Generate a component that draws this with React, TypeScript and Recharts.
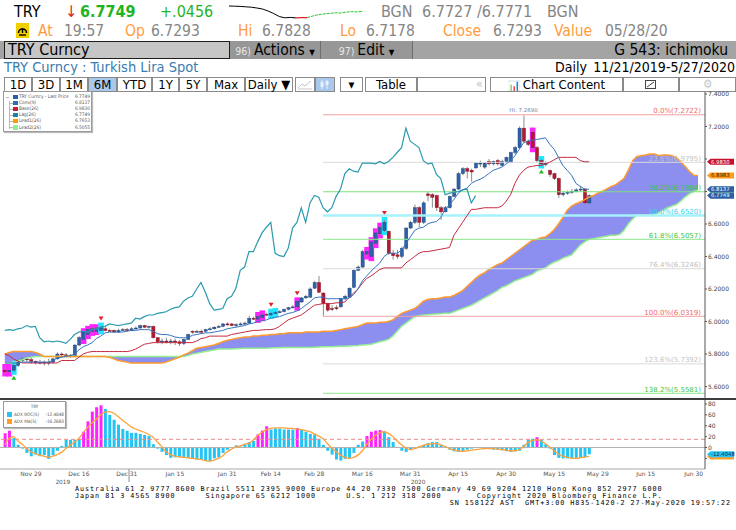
import React from 'react'
import { ComposedChart, LineChart, Bar, Line, Area, XAxis, YAxis, ReferenceLine, ReferenceDot, Cell } from 'recharts'

// candles, index 0 = 11/21/2019 (business days)
const opens = [5.70, 5.69, 5.70, 5.73, 5.76, 5.77, 5.765, 5.755, 5.745, 5.75, 5.745, 5.75, 5.77, 5.80, 5.795, 5.79, 5.785, 5.855, 5.89, 5.92, 5.94, 5.94, 5.945, 5.955, 5.945, 5.945, 5.935, 5.945, 5.95, 5.945, 5.955, 5.96, 5.975, 5.965, 5.97, 5.90, 5.875, 5.88, 5.875, 5.88, 5.875, 5.865, 5.89, 5.94, 5.935, 5.94, 5.94, 5.95, 5.955, 5.965, 5.97, 5.985, 5.985, 5.975, 5.98, 5.985, 5.99, 6.02, 6.015, 6.025, 6.045, 6.04, 6.05, 6.055, 6.06, 6.075, 6.085, 6.09, 6.12, 6.145, 6.15, 6.205, 6.24, 6.175, 6.11, 6.08, 6.085, 6.09, 6.14, 6.15, 6.21, 6.315, 6.335, 6.415, 6.40, 6.48, 6.54, 6.56, 6.555, 6.42, 6.41, 6.40, 6.45, 6.575, 6.61, 6.70, 6.61, 6.785, 6.78, 6.775, 6.70, 6.675, 6.70, 6.77, 6.815, 6.91, 6.94, 6.93, 6.945, 6.97, 6.95, 6.985, 6.97, 6.99, 6.96, 6.985, 6.98, 7.04, 7.07, 7.19, 7.11, 7.165, 7.07, 6.99, 6.965, 6.93, 6.91, 6.88, 6.78, 6.79, 6.795, 6.80, 6.81, 6.815, 6.7293]
const highs = [5.72, 5.72, 5.74, 5.77, 5.78, 5.78, 5.775, 5.76, 5.765, 5.76, 5.77, 5.775, 5.81, 5.81, 5.805, 5.80, 5.86, 5.91, 5.94, 5.955, 5.965, 5.965, 5.975, 5.965, 5.955, 5.95, 5.955, 5.96, 5.96, 5.965, 5.97, 5.98, 5.98, 5.975, 5.975, 5.905, 5.895, 5.90, 5.895, 5.895, 5.885, 5.895, 5.925, 5.945, 5.95, 5.95, 5.955, 5.965, 5.97, 5.98, 5.99, 5.995, 5.99, 5.99, 5.995, 6.00, 6.035, 6.03, 6.04, 6.05, 6.055, 6.06, 6.065, 6.07, 6.08, 6.09, 6.10, 6.13, 6.15, 6.165, 6.21, 6.25, 6.28, 6.18, 6.115, 6.10, 6.10, 6.145, 6.165, 6.21, 6.32, 6.345, 6.44, 6.44, 6.50, 6.555, 6.59, 6.625, 6.56, 6.44, 6.44, 6.46, 6.58, 6.62, 6.72, 6.71, 6.74, 6.80, 6.79, 6.78, 6.71, 6.71, 6.775, 6.82, 6.92, 6.95, 6.95, 6.94, 6.98, 6.99, 6.98, 7.00, 6.99, 7.00, 6.995, 7.015, 7.045, 7.08, 7.20, 7.269, 7.12, 7.175, 7.08, 7.00, 6.985, 6.935, 6.915, 6.885, 6.80, 6.805, 6.815, 6.82, 6.835, 6.82, 6.7828]
const lows = [5.68, 5.68, 5.69, 5.72, 5.75, 5.75, 5.74, 5.735, 5.735, 5.73, 5.73, 5.74, 5.765, 5.78, 5.78, 5.775, 5.78, 5.85, 5.88, 5.91, 5.93, 5.935, 5.94, 5.94, 5.935, 5.93, 5.93, 5.94, 5.94, 5.94, 5.95, 5.955, 5.96, 5.955, 5.895, 5.865, 5.86, 5.865, 5.86, 5.855, 5.85, 5.855, 5.885, 5.925, 5.93, 5.925, 5.93, 5.945, 5.95, 5.96, 5.965, 5.975, 5.97, 5.965, 5.975, 5.98, 5.985, 6.01, 6.01, 6.02, 6.035, 6.035, 6.045, 6.05, 6.055, 6.07, 6.08, 6.085, 6.115, 6.14, 6.145, 6.20, 6.175, 6.032, 6.06, 6.065, 6.07, 6.085, 6.13, 6.145, 6.205, 6.31, 6.33, 6.40, 6.39, 6.47, 6.53, 6.55, 6.41, 6.38, 6.385, 6.39, 6.44, 6.57, 6.60, 6.58, 6.60, 6.74, 6.70, 6.68, 6.625, 6.67, 6.695, 6.765, 6.81, 6.90, 6.88, 6.86, 6.94, 6.95, 6.94, 6.96, 6.96, 6.96, 6.955, 6.975, 6.975, 7.03, 7.06, 7.10, 7.08, 7.06, 6.98, 6.96, 6.955, 6.89, 6.87, 6.76, 6.77, 6.78, 6.785, 6.795, 6.80, 6.72, 6.7178]
const closes = [5.69, 5.70, 5.73, 5.76, 5.77, 5.765, 5.755, 5.745, 5.75, 5.745, 5.75, 5.77, 5.80, 5.795, 5.79, 5.785, 5.855, 5.90, 5.935, 5.95, 5.955, 5.96, 5.965, 5.945, 5.94, 5.935, 5.945, 5.95, 5.945, 5.955, 5.96, 5.975, 5.965, 5.97, 5.90, 5.875, 5.88, 5.875, 5.88, 5.875, 5.865, 5.89, 5.92, 5.935, 5.94, 5.935, 5.95, 5.955, 5.965, 5.97, 5.985, 5.98, 5.975, 5.98, 5.985, 5.99, 6.02, 6.015, 6.03, 6.04, 6.04, 6.05, 6.055, 6.06, 6.075, 6.085, 6.09, 6.125, 6.145, 6.155, 6.20, 6.24, 6.18, 6.11, 6.07, 6.075, 6.08, 6.14, 6.155, 6.205, 6.315, 6.335, 6.43, 6.43, 6.49, 6.545, 6.58, 6.61, 6.42, 6.405, 6.40, 6.45, 6.575, 6.61, 6.70, 6.61, 6.73, 6.775, 6.765, 6.70, 6.675, 6.70, 6.77, 6.815, 6.91, 6.94, 6.925, 6.92, 6.975, 6.975, 6.975, 6.97, 6.985, 6.97, 6.985, 7.01, 7.04, 7.07, 7.19, 7.11, 7.09, 7.07, 6.99, 6.97, 6.975, 6.905, 6.88, 6.78, 6.79, 6.795, 6.80, 6.81, 6.815, 6.73, 6.7749]

const conv = [5.745, 5.745, 5.745, 5.745, 5.75, 5.75, 5.75, 5.75, 5.75, 5.75, 5.75, 5.76, 5.775, 5.78, 5.785, 5.79, 5.80, 5.825, 5.845, 5.855, 5.87, 5.895, 5.91, 5.93, 5.935, 5.935, 5.935, 5.935, 5.94, 5.945, 5.945, 5.95, 5.95, 5.95, 5.94, 5.925, 5.92, 5.92, 5.915, 5.905, 5.90, 5.90, 5.90, 5.915, 5.92, 5.925, 5.93, 5.93, 5.935, 5.94, 5.945, 5.955, 5.96, 5.965, 5.97, 5.975, 5.985, 5.99, 6.0, 6.005, 6.01, 6.02, 6.025, 6.03, 6.04, 6.05, 6.055, 6.065, 6.08, 6.10, 6.12, 6.145, 6.15, 6.15, 6.14, 6.14, 6.14, 6.14, 6.14, 6.145, 6.165, 6.20, 6.25, 6.28, 6.31, 6.335, 6.36, 6.40, 6.42, 6.42, 6.42, 6.44, 6.48, 6.52, 6.56, 6.575, 6.58, 6.60, 6.61, 6.615, 6.64, 6.69, 6.72, 6.75, 6.79, 6.81, 6.82, 6.85, 6.865, 6.875, 6.89, 6.91, 6.93, 6.94, 6.95, 6.97, 6.99, 7.02, 7.06, 7.10, 7.11, 7.115, 7.12, 7.125, 7.13, 7.09, 7.06, 7.01, 6.96, 6.93, 6.90, 6.85, 6.83, 6.815, 6.8137]
const base = [5.80, 5.79, 5.77, 5.755, 5.745, 5.745, 5.745, 5.745, 5.745, 5.745, 5.745, 5.745, 5.745, 5.76, 5.76, 5.76, 5.76, 5.78, 5.80, 5.81, 5.815, 5.815, 5.815, 5.815, 5.815, 5.815, 5.815, 5.815, 5.815, 5.82, 5.83, 5.845, 5.86, 5.865, 5.87, 5.87, 5.87, 5.87, 5.87, 5.87, 5.87, 5.87, 5.87, 5.87, 5.88, 5.895, 5.90, 5.91, 5.91, 5.91, 5.91, 5.91, 5.92, 5.925, 5.93, 5.935, 5.94, 5.945, 5.945, 5.948, 5.95, 5.95, 5.955, 5.97, 5.99, 6.01, 6.02, 6.03, 6.04, 6.06, 6.08, 6.10, 6.105, 6.11, 6.11, 6.11, 6.115, 6.115, 6.12, 6.15, 6.175, 6.20, 6.235, 6.265, 6.28, 6.30, 6.32, 6.33, 6.33, 6.33, 6.33, 6.33, 6.36, 6.38, 6.40, 6.42, 6.43, 6.43, 6.435, 6.44, 6.445, 6.45, 6.455, 6.53, 6.57, 6.61, 6.65, 6.69, 6.69, 6.695, 6.70, 6.70, 6.70, 6.70, 6.71, 6.74, 6.78, 6.85, 6.90, 6.93, 6.95, 6.955, 6.96, 6.96, 6.97, 6.98, 6.995, 7.01, 7.01, 7.01, 7.01, 7.01, 6.99, 6.983, 6.983]
const lead1 = [5.80, 5.81, 5.815, 5.815, 5.815, 5.815, 5.815, 5.81, 5.80, 5.785, 5.785, 5.785, 5.785, 5.785, 5.785, 5.785, 5.785, 5.785, 5.785, 5.785, 5.785, 5.785, 5.785, 5.785, 5.78, 5.77, 5.76, 5.755, 5.75, 5.745, 5.745, 5.745, 5.745, 5.745, 5.745, 5.745, 5.745, 5.75, 5.76, 5.77, 5.78, 5.795, 5.805, 5.82, 5.835, 5.84, 5.845, 5.85, 5.855, 5.865, 5.875, 5.885, 5.89, 5.895, 5.90, 5.905, 5.905, 5.91, 5.91, 5.915, 5.915, 5.92, 5.92, 5.925, 5.925, 5.93, 5.93, 5.93, 5.93, 5.935, 5.935, 5.935, 5.935, 5.94, 5.94, 5.94, 5.945, 5.95, 5.955, 5.96, 5.965, 5.97, 5.98, 5.99, 5.99, 5.99, 5.995, 5.995, 6.0, 6.01, 6.03, 6.05, 6.06, 6.07, 6.08, 6.10, 6.125, 6.135, 6.14, 6.14, 6.145, 6.15, 6.15, 6.16, 6.175, 6.19, 6.215, 6.24, 6.265, 6.285, 6.30, 6.32, 6.335, 6.35, 6.36, 6.38, 6.40, 6.42, 6.44, 6.46, 6.48, 6.50, 6.505, 6.515, 6.52, 6.54, 6.565, 6.60, 6.64, 6.685, 6.71, 6.725, 6.735, 6.75, 6.765, 6.775, 6.79, 6.80, 6.815, 6.83, 6.84, 6.86, 6.88, 6.93, 6.99, 7.015, 7.02, 7.025, 7.03, 7.03, 7.02, 7.025, 7.025, 7.02, 7.01, 6.985, 6.955, 6.925, 6.90, 6.898]
const lead2 = [5.745, 5.745, 5.75, 5.755, 5.765, 5.775, 5.78, 5.785, 5.785, 5.785, 5.785, 5.785, 5.785, 5.785, 5.785, 5.785, 5.785, 5.785, 5.785, 5.785, 5.785, 5.785, 5.785, 5.785, 5.785, 5.785, 5.785, 5.785, 5.785, 5.785, 5.785, 5.785, 5.785, 5.785, 5.785, 5.785, 5.785, 5.785, 5.785, 5.785, 5.785, 5.785, 5.79, 5.80, 5.805, 5.81, 5.815, 5.82, 5.825, 5.83, 5.83, 5.83, 5.83, 5.832, 5.834, 5.835, 5.835, 5.835, 5.835, 5.835, 5.835, 5.837, 5.838, 5.839, 5.84, 5.84, 5.84, 5.84, 5.84, 5.84, 5.84, 5.842, 5.843, 5.844, 5.845, 5.845, 5.846, 5.847, 5.848, 5.849, 5.85, 5.852, 5.855, 5.857, 5.86, 5.867, 5.875, 5.882, 5.89, 5.91, 5.94, 5.97, 5.99, 6.01, 6.03, 6.035, 6.04, 6.042, 6.044, 6.046, 6.048, 6.05, 6.05, 6.06, 6.07, 6.08, 6.09, 6.10, 6.115, 6.13, 6.145, 6.16, 6.175, 6.19, 6.21, 6.22, 6.235, 6.25, 6.26, 6.27, 6.28, 6.29, 6.31, 6.32, 6.33, 6.35, 6.365, 6.375, 6.39, 6.40, 6.41, 6.44, 6.47, 6.49, 6.5055, 6.51, 6.515, 6.52, 6.525, 6.53, 6.53, 6.535, 6.56, 6.60, 6.63, 6.655, 6.655, 6.655, 6.655, 6.66, 6.67, 6.685, 6.70, 6.71, 6.72, 6.74, 6.765, 6.785, 6.80, 6.81]

const magentaCandles = [0, 1, 18, 19, 20, 21, 58, 59, 67, 83, 84, 85, 86, 121]
const cyanCandles = [2, 22, 61, 62, 87, 123]
const downMarks = [22, 61, 67, 87]
const upMarks = [2, 123]

const fibLevels = [
  { name: '0.0%', value: 7.2722, line: '#f3a0a0', text: '#f06a6a', w: 1 },
  { name: '23.6%', value: 6.9795, line: '#dadada', text: '#c4c4c4', w: 1 },
  { name: '38.2%', value: 6.7984, line: '#7be07b', text: '#3fc43f', w: 1 },
  { name: '50.0%', value: 6.652, line: '#a6f2fa', text: '#35d3ee', w: 2.5 },
  { name: '61.8%', value: 6.5057, line: '#8ee88e', text: '#3fc43f', w: 1 },
  { name: '76.4%', value: 6.3246, line: '#dadada', text: '#bcbcbc', w: 1 },
  { name: '100.0%', value: 6.0319, line: '#f3a0a0', text: '#f06a6a', w: 1 },
  { name: '123.6%', value: 5.7392, line: '#dadada', text: '#c4c4c4', w: 1 },
  { name: '138.2%', value: 5.5581, line: '#8ee88e', text: '#3fc43f', w: 1 },
]
const fibStart = 73

const priceTicks = [5.6, 5.8, 6.0, 6.2, 6.4, 6.6, 6.8, 7.0, 7.2, 7.4]
// tick labels that the value tags cover in the reference
const coveredTicks = [6.8, 7.0]
const priceTags = [
  { value: 6.81, bg: '#9af09a', fg: '#9af09a', text: '' },
  { value: 6.983, bg: '#c8102e', fg: '#ffffff', text: '6.9830' },
  { value: 6.8983, bg: '#ff9a1a', fg: '#3a2000', text: '6.8983' },
  { value: 6.8137, bg: '#2c5fa3', fg: '#ffffff', text: '6.8137' },
  { value: 6.7749, bg: '#2c5fa3', fg: '#ffffff', text: '6.7749' },
]

const adxRoc = [26, 31, 17.5, 5, -2, -10, -16, -13, -16, -14, -21, -14, -6, 3, 14, 14, 14, 16, 29, 48, 66, 74, 77.5, 71, 60, 51, 42, 34, 31, 27, 27, 25, 23, 21, 6, -2, -8, -14, -19, -18, -18, -19, -19, -20, -22, -22, -25, -25, -20, -18, -10, -4, 1, 4, 2, 6, 10, 12, 24, 31, 39, 33, 35, 35, 33, 33, 33, 36, 33, 29, 25, 24, 16, 5, -6, -13, -22, -24, -21, -19, -10, 5, 11, 21, 29, 31, 32, 30, 19, 10, 1, -6, -8, -4, -2, 2, 5, 8, 10, 10, 5, 2, -4, -7, -8, -6, -4, -2, -1, -1, -3, -3, -4, -4, -5, -7, -8, -7, -6, 5, 14, 16, 19, 14, 6, -2, -14, -19, -20, -20, -20, -19, -18, -18, -12.4048]
const adxMa = [5, 17, 20, 12, 6, -2, -8, -11, -14, -16, -18, -16, -13, -9, -2, 4, 10, 17, 27, 37, 45, 52, 60, 65, 66, 63, 57, 50, 44, 38, 34, 31, 28, 24, 19, 10, 2, -8, -13, -16, -17, -18, -19, -20, -21, -22, -24, -25, -23, -20, -15, -8, -3, 1, 3, 6, 8, 14, 22, 28, 33, 35, 36, 36, 36, 35, 35, 34, 33, 31, 29, 25, 21, 16, 7, -1, -8, -14, -18, -20, -18, -14, -6, 5, 15, 22, 27, 29, 26, 20, 12, 5, -1, -4, -2, 1, 4, 6, 7, 7, 5, 2, -2, -5, -6, -7, -6, -5, -4, -3, -2, -2, -2, -3, -4, -5, -6, -6, -4, 2, 9, 13, 14, 12, 7, 1, -6, -12, -16, -18, -19.5, -20, -19, -17.5, -16.2683]
const magentaBars = [0, 1, 18, 19, 20, 21, 22, 58, 59, 60, 67, 83, 84, 85, 86, 122]
const adxTicks = [-20, 0, 20, 40, 60, 80]
const coveredAdxTicks = [-20]
const adxTags = [
  { value: -16.2683, bg: '#ff9f2a', fg: '#3a2000', text: '' },
  { value: -12.4048, bg: '#27c3f3', fg: '#0a2a40', text: '-12.4048' },
]

const dateTickIdx = [6, 17, 28, 39, 51, 61, 71, 82, 93, 104, 115, 126, 136, 147, 158]
const dateTickLabels = ['Nov 29', 'Dec 16', 'Dec 31', 'Jan 15', 'Jan 31', 'Feb 14', 'Feb 28', 'Mar 16', 'Mar 31', 'Apr 15', 'Apr 30', 'May 15', 'May 29', 'Jun 15', 'Jun 30']
const yearTickIdx = [13.3, 28.5, 94.8]
const yearTickLabels = ['2019', '', '2020']

const sparkBlack = [15, 14.8, 14.6, 14.2, 13.8, 13, 12, 10, 7.5, 4.5, 3.2, 3.6, 3.1]
const sparkRed = [3.1, 3.3, 3.4]
const sparkGreen = [3.4, 5, 6.3, 7.1, 7.6, 8.2, 8, 8.9, 9.3, 9.1, 9.8, 10.2]

const legendRows = [
  { color: '#2b5ea8', label: 'TRY Curncy - Last Price', value: '6.7749' },
  { color: '#2f6fbf', label: 'Conv(9)', value: '6.8137' },
  { color: '#c41e3a', label: 'Base(26)', value: '6.9830' },
  { color: '#1f80a0', label: 'Lag(26)', value: '6.7749' },
  { color: '#ff9900', label: 'Lead1(26)', value: '6.7653' },
  { color: '#90f090', label: 'Lead2(26)', value: '6.5055' },
]

const X_DOMAIN = [-1.1, 160.6]
const condensed = "'DejaVu Sans Condensed', 'Liberation Sans Narrow', 'DejaVu Sans', sans-serif"
const smallFont = "'DejaVu Sans', 'Liberation Sans', sans-serif"
const monoFont = "'DejaVu Sans Mono', 'Liberation Mono', monospace"

const rows = lead1.map((l1, i) => ({
  i,
  o: opens[i],
  h: highs[i],
  l: lows[i],
  c: closes[i],
  conv: conv[i],
  base: base[i],
  lag: closes[i + 26],
  lead1: l1,
  lead2: lead2[i],
  cloud: [lead2[i], l1],
  hl: magentaCandles.includes(i) ? 'm' : cyanCandles.includes(i) ? 'c' : '',
  dn: downMarks.includes(i),
  upm: upMarks.includes(i),
}))

const adxRows = adxRoc.map((v, i) => ({ i, roc: v, ma: adxMa[i] }))

const sparkRows = Array.from({ length: 25 }, (_, k) => ({
  k,
  b: k < sparkBlack.length ? sparkBlack[k] : null,
  r: k >= 12 && k < 15 ? sparkRed[k - 12] : null,
  g: k >= 14 ? sparkGreen[k - 14] ?? null : null,
}))

const Candle = (props: any) => {
  const { x, y, width, height, payload } = props
  if (!payload || payload.h == null || !height) return null
  const top = Math.min(y, y + height)
  const span = Math.abs(height)
  const k = span / (payload.h - payload.l)
  const cx = x + width / 2
  const yO = top + (payload.h - payload.o) * k
  const yC = top + (payload.h - payload.c) * k
  const up = payload.c >= payload.o
  const bTop = Math.min(yO, yC)
  const bH = Math.max(1, Math.abs(yC - yO))
  const bottom = top + span
  return (
    <g>
      {payload.hl && (
        <rect x={cx - 2.8} y={top - 3} width={5.6} height={span + 6} fill={payload.hl === 'm' ? '#ff22ff' : '#22e6ff'} />
      )}
      <line x1={cx} x2={cx} y1={top} y2={bottom} stroke="#8c8c8c" strokeWidth={1} />
      <rect x={cx - 1.6} y={bTop} width={3.2} height={bH} fill={up ? '#2d62a8' : '#b3192f'} stroke={up ? '#1b3d70' : '#780d1c'} strokeWidth={0.4} />
      {payload.dn && <path d={`M${cx - 2.5},${top - 9} L${cx + 2.5},${top - 9} L${cx},${top - 5} Z`} fill="#e3202a" />}
      {payload.upm && <path d={`M${cx - 2.5},${bottom + 8} L${cx + 2.5},${bottom + 8} L${cx},${bottom + 4} Z`} fill="#22c022" />}
    </g>
  )
}

const tagShape = (bg: string, fg: string, text: string) => (p: any) => {
  const x0 = p.cx + 2
  const cy = p.cy
  return (
    <g>
      <path d={`M${x0},${cy} L${x0 + 3.5},${cy - 3.1} L${x0 + 27},${cy - 3.1} L${x0 + 27},${cy + 3.1} L${x0 + 3.5},${cy + 3.1} Z`} fill={bg} />
      {text && <text x={x0 + 4} y={cy + 1.9} fontSize={5.3} fill={fg} fontFamily={smallFont}>{text}</text>}
    </g>
  )
}

const fibLabel = (text: string, color: string) => (p: any) => (
  <text x={p.cx - 4} y={p.cy - 1.5} textAnchor="end" fontSize={7} fill={color} fontFamily={smallFont}>{text}</text>
)

const hiLabel = (p: any) => (
  <text x={p.cx} y={p.cy - 3} textAnchor="middle" fontSize={5.5} fill="#6d87a8" fontFamily={smallFont}>Hi: 7.2690</text>
)

const YearTick = (p: any) => {
  const idx = yearTickIdx.indexOf(p.payload.value)
  if (yearTickLabels[idx] === '') {
    return <line x1={p.x} x2={p.x} y1={p.y - 8} y2={p.y + 5} stroke="#8a8a8a" strokeWidth={1} />
  }
  return <text x={p.x} y={p.y + 7} textAnchor="middle" fontSize={5.8} fill="#555" fontFamily={smallFont}>{yearTickLabels[idx]}</text>
}

const abs = (left: number, top: number, extra: React.CSSProperties = {}): React.CSSProperties => ({
  position: 'absolute', left, top, whiteSpace: 'pre', ...extra,
})

function Header() {
  const orange = '#ff9b3d'
  const gray = '#858585'
  const green = '#1fb41f'
  const row1: React.CSSProperties = { fontFamily: condensed, fontSize: 16, lineHeight: '20px' }
  const row2: React.CSSProperties = { fontFamily: condensed, fontSize: 15.5, lineHeight: '18px' }
  return (
    <>
      <div style={abs(14, 2, { ...row1, color: '#000' })}>TRY</div>
      <div style={abs(65, 2, { ...row1, color: '#e02424' })}>↓</div>
      <div style={abs(80, 2, { ...row1, color: green, fontWeight: 'bold' })}>6.7749</div>
      <div style={abs(160, 2, { ...row1, color: green })}>+.0456</div>
      <div style={abs(229, 3)}>
        <LineChart width={134} height={18} data={sparkRows} margin={{ top: 0, right: 0, bottom: 0, left: 0 }}>
          <XAxis dataKey="k" hide />
          <YAxis hide domain={[0, 18]} />
          <Line dataKey="b" stroke="#000" strokeWidth={1} dot={false} isAnimationActive={false} />
          <Line dataKey="r" stroke="#e02020" strokeWidth={1.2} dot={false} isAnimationActive={false} />
          <Line dataKey="g" stroke="#22c422" strokeWidth={1} dot={false} isAnimationActive={false} strokeDasharray="3 1" />
        </LineChart>
      </div>
      <div style={abs(381, 2, { ...row1, color: gray })}>BGN</div>
      <div style={abs(422, 2, { ...row1, color: gray })}>6.7727 /6.7771</div>
      <div style={abs(547, 2, { ...row1, color: gray })}>BGN</div>

      <div style={abs(16, 23, { width: 13, height: 15, background: '#f2d000' })}>
        <svg width={13} height={15}>
          <path d="M2.5,10 A4,4 0 1,1 10.5,10" fill="none" stroke="#000" strokeWidth={1.6} />
          <line x1={6.5} y1={10} x2={6.5} y2={5.5} stroke="#000" strokeWidth={1.4} />
          <line x1={3} y1={12} x2={10} y2={12} stroke="#000" strokeWidth={1.4} />
        </svg>
      </div>
      <div style={abs(38, 22, { ...row2, color: orange })}>At</div>
      <div style={abs(64, 22, { ...row2, color: gray })}>19:57</div>
      <div style={abs(125, 22, { ...row2, color: orange })}>Op</div>
      <div style={abs(151, 22, { ...row2, color: gray })}>6.7293</div>
      <div style={abs(238, 22, { ...row2, color: orange })}>Hi</div>
      <div style={abs(262, 22, { ...row2, color: gray })}>6.7828</div>
      <div style={abs(340, 22, { ...row2, color: orange })}>Lo</div>
      <div style={abs(366, 22, { ...row2, color: gray })}>6.7178</div>
      <div style={abs(443, 22, { ...row2, color: orange })}>Close</div>
      <div style={abs(493, 22, { ...row2, color: gray })}>6.7293</div>
      <div style={abs(554, 22, { ...row2, color: orange })}>Value</div>
      <div style={abs(605, 22, { ...row2, color: gray })}>05/28/20</div>

      <div style={abs(0, 41, { width: 736, height: 18, background: '#a4a4a4' })} />
      <div style={abs(4, 41, { width: 226, height: 18, boxSizing: 'border-box', background: '#c6c6c6', border: '1px solid #1e1e1e', fontFamily: condensed, fontSize: 16, lineHeight: '16px', paddingLeft: 3, color: '#000' })}>TRY Curncy</div>
      <div style={abs(230, 41, { width: 91, height: 18, background: '#979797', borderRight: '1px solid #6e6e6e', boxSizing: 'border-box', fontFamily: condensed, lineHeight: '18px', textAlign: 'center' })}>
        <span style={{ fontSize: 10.5, color: '#e6e6e6' }}>96) </span>
        <span style={{ fontSize: 15.5, color: '#000' }}>Actions </span>
        <span style={{ fontSize: 8, color: '#000' }}>▼</span>
      </div>
      <div style={abs(321, 41, { width: 92, height: 18, background: '#979797', borderRight: '1px solid #6e6e6e', boxSizing: 'border-box', fontFamily: condensed, lineHeight: '18px', textAlign: 'center' })}>
        <span style={{ fontSize: 10.5, color: '#e6e6e6' }}>97) </span>
        <span style={{ fontSize: 15.5, color: '#000' }}>Edit </span>
        <span style={{ fontSize: 8, color: '#000' }}>▼</span>
      </div>
      <div style={abs(500, 41, { width: 228, textAlign: 'right', fontFamily: condensed, fontSize: 15.5, lineHeight: '18px', color: '#000' })}>G 543: ichimoku</div>

      <div style={abs(4, 59, { fontFamily: condensed, fontSize: 14.5, lineHeight: '17px', color: '#3a7cae' })}>TRY Curncy : Turkish Lira Spot</div>
      <div style={abs(555, 59, { fontFamily: condensed, fontSize: 14, lineHeight: '17px', color: '#000' })}>Daily</div>
      <div style={abs(585, 59, { width: 150, textAlign: 'right', fontFamily: condensed, fontSize: 14, lineHeight: '17px', color: '#000' })}>11/21/2019-5/27/2020</div>
    </>
  )
}

const toolbar = [
  { label: '1D', x: 4, w: 28 }, { label: '3D', x: 32, w: 28 }, { label: '1M', x: 60, w: 28 },
  { label: '6M', x: 88, w: 29, active: true }, { label: 'YTD', x: 117, w: 35 }, { label: '1Y', x: 152, w: 27 },
  { label: '5Y', x: 179, w: 28 }, { label: 'Max', x: 207, w: 38 }, { label: 'Daily ▼', x: 245, w: 48 },
  { label: '', x: 295, w: 20 }, { label: '', x: 315, w: 20, active: true }, { label: '▾', x: 340, w: 23 },
  { label: 'Table', x: 365, w: 52 }, { label: '', x: 417, w: 69 }, { label: 'Chart Content', x: 490, w: 133 },
  { label: '', x: 623, w: 56 }, { label: '⚙', x: 679, w: 57 },
]

function Toolbar() {
  return (
    <>
      {toolbar.map((b, k) => (
        <div key={k} style={abs(b.x, 77, {
          width: b.w, height: 15, boxSizing: 'border-box', border: '1px solid #8a8a8a',
          background: b.active ? '#a9c8ec' : '#ffffff', fontFamily: condensed, fontSize: b.label === '⚙' ? 12 : 13,
          lineHeight: '13px', textAlign: 'center', color: b.label === '⚙' ? '#c8c8c8' : '#000',
        })}>
          {b.label === 'Chart Content' ? <span><span style={{ fontSize: 10 }}>📊 </span>Chart Content</span> : b.label}
        </div>
      ))}
      <svg style={abs(297, 79)} width={16} height={11}>
        <polyline points="1,9 5,5 8,7 14,2" fill="none" stroke="#c6c6c6" strokeWidth={1} />
        <line x1={1} y1={10} x2={15} y2={10} stroke="#c6c6c6" />
      </svg>
      <svg style={abs(318, 79)} width={14} height={11}>
        <line x1={4} y1={1} x2={4} y2={10} stroke="#e8f0ff" />
        <rect x={2.5} y={3} width={3} height={5} fill="#e8f0ff" />
        <line x1={9} y1={1} x2={9} y2={10} stroke="#e8f0ff" />
        <rect x={7.5} y={2} width={3} height={4} fill="#e8f0ff" />
      </svg>
      <div style={abs(476, 77, { fontFamily: condensed, fontSize: 12, lineHeight: '14px', color: '#c0c0c0' })}>«</div>
      <svg style={abs(644, 79)} width={14} height={11}>
        <rect x={1.5} y={1.5} width={10} height={8} fill="none" stroke="#444" />
        <line x1={3} y1={8} x2={10} y2={3} stroke="#444" />
      </svg>
    </>
  )
}

function Legend() {
  return (
    <div style={abs(3, 91, { width: 89, height: 41, boxSizing: 'border-box', border: '1px solid #9a9a9a', background: '#fff', boxShadow: '1px 1px 1px #bbb', fontFamily: condensed, fontSize: 4.8, color: '#555' })}>
      <div style={abs(5, 9, { width: 1, height: 28, background: '#b8b8b8' })} />
      {legendRows.map((r, k) => (
        <div key={k} style={abs(0, 2 + k * 6.1, { width: 87, height: 6, lineHeight: '6px' })}>
          <div style={abs(k === 0 ? 2 : 6, 2.5, { width: 3, height: 1, background: '#b8b8b8' })} />
          <div style={abs(9, 0.5, { width: 4.5, height: 4.5, background: r.color })} />
          <div style={abs(15, 0)}>{r.label}</div>
          <div style={abs(62, 0, { width: 24, textAlign: 'right' })}>{r.value}</div>
        </div>
      ))}
    </div>
  )
}

function AdxLegend() {
  return (
    <div style={abs(3, 401, { width: 63, height: 27, boxSizing: 'border-box', border: '1px solid #9a9a9a', background: '#fff', boxShadow: '1px 1px 1px #bbb', fontFamily: condensed, fontSize: 4.6, color: '#555' })}>
      <div style={abs(0, 2, { width: 61, textAlign: 'center' })}>TRY</div>
      <div style={abs(3, 10, { width: 4.5, height: 4.5, background: '#27c3f3' })} />
      <div style={abs(10, 9.8)}>ADX ROC(5)</div>
      <div style={abs(38, 9.8, { width: 22, textAlign: 'right' })}>-12.4048</div>
      <div style={abs(3, 17, { width: 4.5, height: 4.5, background: '#ff9f2a' })} />
      <div style={abs(10, 16.8)}>ADX MA(5)</div>
      <div style={abs(38, 16.8, { width: 22, textAlign: 'right' })}>-16.2683</div>
    </div>
  )
}

function PriceChart() {
  return (
    <ComposedChart width={736} height={307} data={rows} margin={{ top: 1, right: 0, bottom: 0, left: 0 }}>
      <XAxis dataKey="i" type="number" domain={X_DOMAIN} hide allowDataOverflow />
      <YAxis
        orientation="right"
        width={31}
        domain={[5.5292, 7.4123]}
        allowDataOverflow
        ticks={priceTicks}
        interval={0}
        tickFormatter={(v: number) => (coveredTicks.includes(v) ? '' : v.toFixed(4))}
        tick={{ fontSize: 6, fill: '#444', fontFamily: smallFont }}
        tickSize={2}
        tickMargin={1}
        stroke="#555"
      />
      <Area dataKey="cloud" stroke="none" fill="#8d8ff0" fillOpacity={1} isAnimationActive={false} />
      <Line dataKey="lead2" stroke="#93ee93" strokeWidth={1.5} dot={false} isAnimationActive={false} />
      <Line dataKey="lead1" stroke="#ff9a2e" strokeWidth={1.5} dot={false} isAnimationActive={false} />
      {fibLevels.map((f) => (
        <ReferenceLine key={f.name} segment={[{ x: fibStart, y: f.value }, { x: 160.6, y: f.value }]} stroke={f.line} strokeWidth={f.w} ifOverflow="visible" />
      ))}
      {fibLevels.map((f) => (
        <ReferenceDot key={'l' + f.name} x={160.6} y={f.value} ifOverflow="visible" shape={fibLabel(`${f.name}(${f.value.toFixed(4)})`, f.text)} />
      ))}
      <Line dataKey="lag" stroke="#2a9aae" strokeWidth={1.2} dot={false} isAnimationActive={false} />
      <Line dataKey="base" stroke="#c42a40" strokeWidth={1} dot={false} isAnimationActive={false} />
      <Line dataKey="conv" stroke="#3474c0" strokeWidth={1} dot={false} isAnimationActive={false} />
      <Bar dataKey={(d: any) => (d.h != null ? [d.l, d.h] : undefined)} barSize={3} shape={Candle} isAnimationActive={false} />
      <ReferenceDot x={119} y={7.269} ifOverflow="visible" shape={hiLabel} />
      {priceTags.map((t) => (
        <ReferenceDot key={t.value + t.bg} x={160.6} y={t.value} ifOverflow="visible" shape={tagShape(t.bg, t.fg, t.text)} />
      ))}
    </ComposedChart>
  )
}

function AdxChart() {
  return (
    <ComposedChart width={736} height={87} data={adxRows} margin={{ top: 1, right: 0, bottom: 0, left: 0 }}>
      <XAxis
        dataKey="i"
        type="number"
        domain={X_DOMAIN}
        allowDataOverflow
        ticks={dateTickIdx}
        interval={0}
        tickFormatter={(v: number) => dateTickLabels[dateTickIdx.indexOf(v)]}
        tick={{ fontSize: 6, fill: '#555', fontFamily: smallFont }}
        tickLine={false}
        tickSize={2}
        tickMargin={1}
        height={8}
        stroke="#a8a8a8"
      />
      <XAxis
        xAxisId="yr"
        dataKey="i"
        type="number"
        domain={X_DOMAIN}
        allowDataOverflow
        ticks={yearTickIdx}
        interval={0}
        axisLine={false}
        tickLine={false}
        tickSize={0}
        tickMargin={0}
        height={9}
        tick={<YearTick />}
      />
      <YAxis
        orientation="right"
        width={31}
        domain={[-39.5, 87.3]}
        allowDataOverflow
        ticks={adxTicks}
        interval={0}
        tickFormatter={(v: number) => (coveredAdxTicks.includes(v) ? '' : String(v))}
        tick={{ fontSize: 6, fill: '#444', fontFamily: smallFont }}
        tickSize={2}
        tickMargin={1}
        stroke="#555"
      />
      <ReferenceLine y={0} stroke="#b4b4b4" />
      <ReferenceLine y={15} stroke="#f08a8a" strokeDasharray="4 3" />
      <Bar dataKey="roc" barSize={3} isAnimationActive={false}>
        {adxRows.map((r) => (
          <Cell key={r.i} fill={magentaBars.includes(r.i) ? '#ff22ff' : '#22c4f4'} />
        ))}
      </Bar>
      <Line dataKey="ma" type="monotone" stroke="#ffa23a" strokeWidth={1.3} dot={false} isAnimationActive={false} />
      {adxTags.map((t) => (
        <ReferenceDot key={t.value} x={160.6} y={t.value} ifOverflow="visible" shape={tagShape(t.bg, t.fg, t.text)} />
      ))}
    </ComposedChart>
  )
}

const footerLines = [
  'Australia 61 2 9777 8600 Brazil 5511 2395 9000 Europe 44 20 7330 7500 Germany 49 69 9204 1210 Hong Kong 852 2977 6000',
  'Japan 81 3 4565 8900      Singapore 65 6212 1000      U.S. 1 212 318 2000       Copyright 2020 Bloomberg Finance L.P.',
  'SN 158122 AST  GMT+3:00 H835-1420-2 27-May-2020 19:57:22',
]

export default function App() {
  const foot: React.CSSProperties = { fontFamily: monoFont, fontSize: 6.8, letterSpacing: 0.93, lineHeight: '7px', color: '#000' }
  return (
    <div style={{ position: 'relative', width: 736, height: 530, overflow: 'hidden', background: '#fff' }}>
      <style>{'body{margin:0}'}</style>
      <Header />
      <Toolbar />
      <div style={abs(0, 91)}>
        <PriceChart />
      </div>
      <Legend />
      <div style={abs(0, 398, { width: 736, height: 2, background: '#3c3c3c' })} />
      <div style={abs(0, 399)}>
        <AdxChart />
      </div>
      <AdxLegend />
      <div style={abs(75, 486, foot)}>{footerLines[0]}</div>
      <div style={abs(75, 493, foot)}>{footerLines[1]}</div>
      <div style={abs(440, 500, { ...foot, width: 291, textAlign: 'right' })}>{footerLines[2]}</div>
    </div>
  )
}
